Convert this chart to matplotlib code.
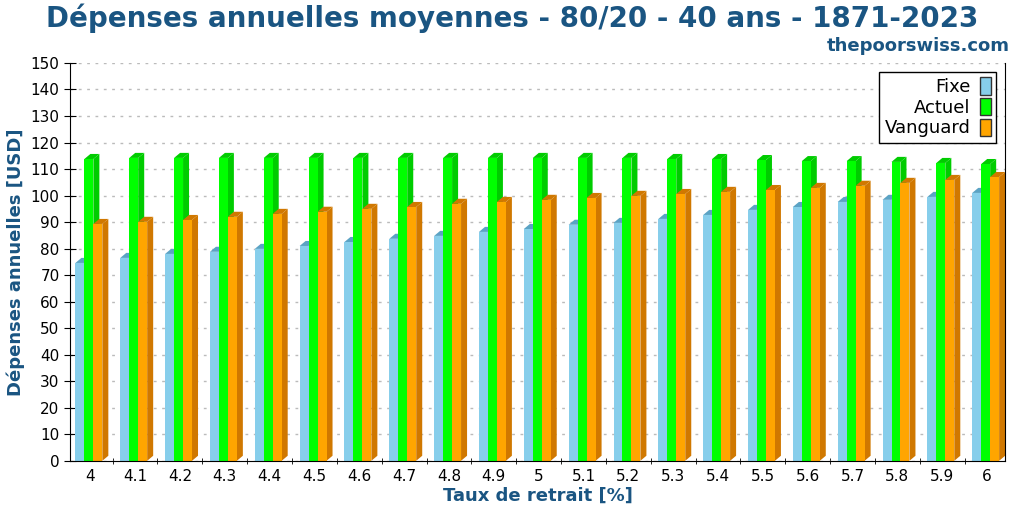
import numpy as np
from matplotlib import pyplot as plt
from matplotlib.patches import Polygon, Patch

rates = ['4', '4.1', '4.2', '4.3', '4.4', '4.5', '4.6', '4.7', '4.8', '4.9', '5',
         '5.1', '5.2', '5.3', '5.4', '5.5', '5.6', '5.7', '5.8', '5.9', '6']
fixe = [74.6, 76.5, 78.0, 78.8, 79.9, 81.0, 82.5, 83.7, 84.8, 86.3, 87.4,
        89.0, 89.7, 91.2, 92.7, 94.6, 95.7, 97.6, 98.4, 99.5, 101.0]
actuel = [113.8, 114.2, 114.2, 114.2, 114.2, 114.2, 114.2, 114.2, 114.2, 114.2, 114.2,
          114.2, 114.2, 113.8, 113.8, 113.4, 113.0, 113.0, 112.7, 112.3, 111.9]
vanguard = [89.3, 90.1, 90.8, 92.0, 93.1, 93.9, 95.0, 95.7, 96.9, 97.6, 98.4,
            99.1, 99.9, 100.6, 101.4, 102.1, 102.9, 103.7, 104.8, 105.9, 107.0]

blue = '#1a5582'
series = [('Fixe', fixe, '#87ceeb', '#5ba3c4', '#5ba3c4'),
          ('Actuel', actuel, '#00ff00', '#00cc00', '#00cc00'),
          ('Vanguard', vanguard, '#ffa500', '#d07800', '#d07800')]

fig = plt.figure(figsize=(10.24, 5.12), dpi=100)
ax = fig.add_axes([0.0684, 0.1, 0.913, 0.777])

x = np.arange(len(rates))
w = 0.2
dx, dy = 0.134, 1.9
offsets = [-0.33, -0.13, 0.07]
for (name, vals, c_front, c_side, c_top), off in zip(series, offsets):
    for xi, v in zip(x, vals):
        l = xi + off
        r = l + w
        ax.add_patch(Polygon([(r, 0), (r + dx, dy), (r + dx, v + dy), (r, v)],
                             closed=True, fc=c_side, ec='none'))
        ax.add_patch(Polygon([(l, v), (l + dx, v + dy), (r + dx, v + dy), (r, v)],
                             closed=True, fc=c_top, ec='none'))
        ax.add_patch(Polygon([(l, 0), (l, v), (r, v), (r, 0)],
                             closed=True, fc=c_front, ec='none'))

ax.set_xlim(-0.45, 20.4)
ax.set_ylim(0, 150)
ax.set_yticks(range(0, 151, 10))
ax.set_xticks(x)
ax.set_xticklabels(rates, fontsize=11)
ax.set_xticks(x[:-1] + 0.5, minor=True)
ax.tick_params(axis='x', which='major', length=0, pad=6)
ax.tick_params(axis='x', which='minor', length=5, direction='inout')
ax.tick_params(axis='y', labelsize=11, length=8, direction='inout')
ax.grid(axis='y', color='#bbbbbb', linestyle=(0, (2, 4)), linewidth=1)
ax.set_axisbelow(True)
ax.spines['top'].set_visible(False)

ax.set_xlabel('Taux de retrait [%]', fontsize=13, fontweight='bold', color=blue, labelpad=2)
ax.set_ylabel('Dépenses annuelles [USD]', fontsize=13, fontweight='bold', color=blue)
fig.text(0.5, 0.965, 'Dépenses annuelles moyennes - 80/20 - 40 ans - 1871-2023',
         ha='center', va='center', fontsize=20, fontweight='bold', color=blue)
fig.text(0.986, 0.91, 'thepoorswiss.com', ha='right', va='center',
         fontsize=13, fontweight='bold', color=blue)

handles = [Patch(fc=s[2], ec='#333333') for s in series]
ax.legend(handles, [s[0] for s in series], loc='upper right', markerfirst=False,
          fontsize=13, fancybox=False, edgecolor='black', framealpha=1,
          handlelength=0.6, handleheight=1.1, borderpad=0.3, labelspacing=0.1,
          handletextpad=0.5)

plt.savefig('out.png')
